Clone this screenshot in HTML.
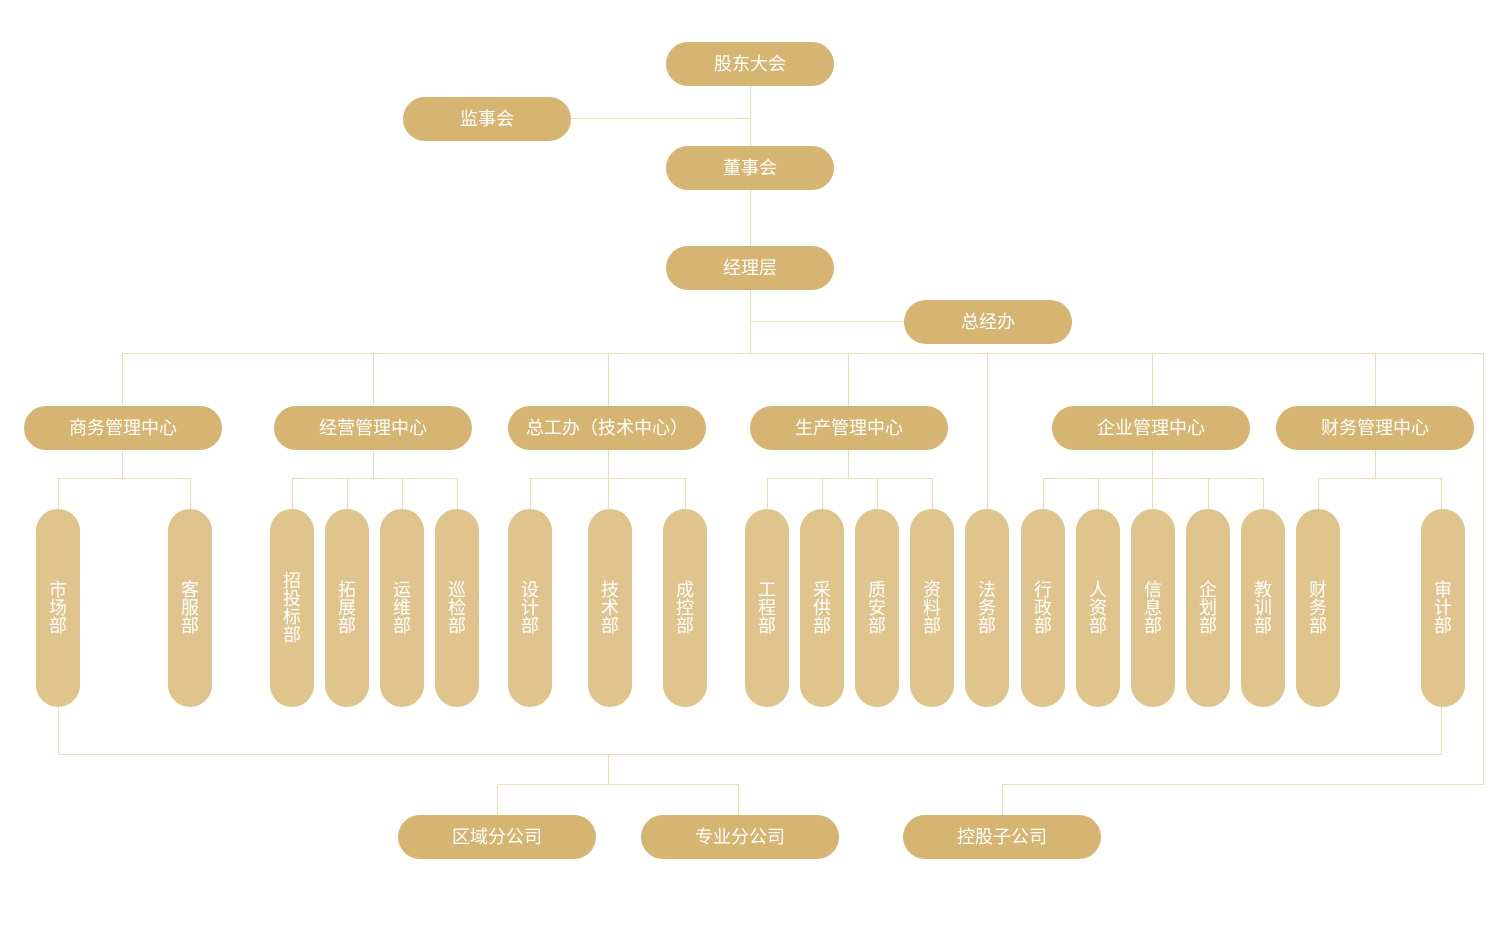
<!DOCTYPE html>
<html><head><meta charset="utf-8"><style>
body{margin:0;width:1500px;height:926px;background:#fff;position:relative;overflow:hidden;font-family:"Liberation Sans","Noto Sans CJK SC",sans-serif}
.n{position:absolute;background:#d6b472;color:#fff;border-radius:22px;height:44px;line-height:44px;text-align:center;font-size:18px}
.d{position:absolute;background:#dfc48e;color:#fff;border-radius:22px;width:44px;top:509px;height:198px;display:flex;align-items:center;justify-content:center;font-size:18px;line-height:18px;text-align:center}
.d span{width:18px;word-break:break-all}
svg{position:absolute;left:0;top:0}
</style></head><body>
<svg width="1500" height="926"><g stroke="#ecdcb8" stroke-width="1" fill="none">
<path d="M750.5 85V353M571 118.5H750M750 321.5H904"/>
<path d="M122 353.5H1483.5V784.5H1002.5V815"/>
<path d="M122.5 353V406M373.5 353V406M608.5 353V406M848.5 353V406M987.5 353V509M1152.5 353V406M1375.5 353V406"/>
<path d="M122.5 449V478.5M58.5 509V478.5H190.5V509"/>
<path d="M373.5 449V478.5M292.5 509V478.5H457.5V509M347.5 478V509M402.5 478V509"/>
<path d="M608.5 449V509M530.5 509V478.5H685.5V509"/>
<path d="M848.5 449V478.5M767.5 509V478.5H932.5V509M822.5 478V509M877.5 478V509"/>
<path d="M1152.5 449V509M1043.5 509V478.5H1263.5V509M1098.5 478V509M1208.5 478V509"/>
<path d="M1375.5 449V478.5M1318.5 509V478.5H1441.5V509"/>
<path d="M58.5 706V754.5H1441.5V706M608.5 754V784.5M497.5 815V784.5H738.5V815"/>
</g></svg>
<div class="n" style="left:666px;top:42px;width:168px">股东大会</div>
<div class="n" style="left:403px;top:97px;width:168px">监事会</div>
<div class="n" style="left:666px;top:146px;width:168px">董事会</div>
<div class="n" style="left:666px;top:246px;width:168px">经理层</div>
<div class="n" style="left:904px;top:300px;width:168px">总经办</div>
<div class="n" style="left:24px;top:406px;width:198px">商务管理中心</div>
<div class="n" style="left:274px;top:406px;width:198px">经营管理中心</div>
<div class="n" style="left:508px;top:406px;width:198px">总工办（技术中心）</div>
<div class="n" style="left:750px;top:406px;width:198px">生产管理中心</div>
<div class="n" style="left:1052px;top:406px;width:198px">企业管理中心</div>
<div class="n" style="left:1276px;top:406px;width:198px">财务管理中心</div>
<div class="n" style="left:398px;top:815px;width:198px">区域分公司</div>
<div class="n" style="left:641px;top:815px;width:198px">专业分公司</div>
<div class="n" style="left:903px;top:815px;width:198px">控股子公司</div>
<div class="d" style="left:36px"><span>市场部</span></div>
<div class="d" style="left:168px"><span>客服部</span></div>
<div class="d" style="left:270px"><span>招投标部</span></div>
<div class="d" style="left:325px"><span>拓展部</span></div>
<div class="d" style="left:380px"><span>运维部</span></div>
<div class="d" style="left:435px"><span>巡检部</span></div>
<div class="d" style="left:508px"><span>设计部</span></div>
<div class="d" style="left:588px"><span>技术部</span></div>
<div class="d" style="left:663px"><span>成控部</span></div>
<div class="d" style="left:745px"><span>工程部</span></div>
<div class="d" style="left:800px"><span>采供部</span></div>
<div class="d" style="left:855px"><span>质安部</span></div>
<div class="d" style="left:910px"><span>资料部</span></div>
<div class="d" style="left:965px"><span>法务部</span></div>
<div class="d" style="left:1021px"><span>行政部</span></div>
<div class="d" style="left:1076px"><span>人资部</span></div>
<div class="d" style="left:1131px"><span>信息部</span></div>
<div class="d" style="left:1186px"><span>企划部</span></div>
<div class="d" style="left:1241px"><span>教训部</span></div>
<div class="d" style="left:1296px"><span>财务部</span></div>
<div class="d" style="left:1421px"><span>审计部</span></div>
</body></html>
